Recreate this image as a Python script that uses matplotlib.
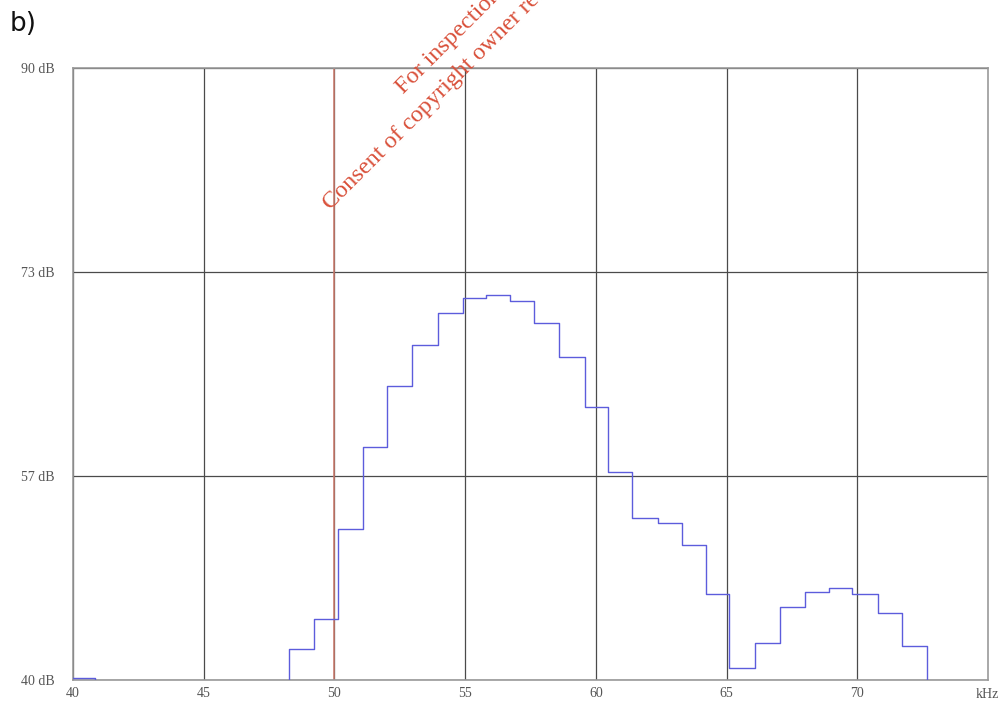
import matplotlib
matplotlib.use("Agg")
import matplotlib.pyplot as plt

# step edges (kHz) and level held from each edge (dB)
freq_edges = [40.0, 40.84, 48.27, 49.23, 50.15, 51.08, 52.0, 52.98, 53.95, 54.9,
              55.8, 56.72, 57.65, 58.6, 59.59, 60.45, 61.4, 62.37, 63.31, 64.2,
              65.1, 66.09, 67.05, 68.0, 68.9, 69.8, 70.78, 71.72, 72.68, 75.0]
levels_db = [40.2, 38.0, 42.5, 45.0, 52.3, 59.0, 64.0, 67.4, 69.96, 71.2,
             71.45, 70.96, 69.2, 66.4, 62.3, 56.97, 53.26, 52.8, 51.0, 47.0,
             41.0, 43.05, 46.0, 47.2, 47.5, 47.0, 45.5, 42.8, 38.0, 38.0]

x_ticks = [40, 45, 50, 55, 60, 65, 70]
y_ticks = [40, 40 + 50 / 3, 40 + 100 / 3, 90]
y_labels = ["40 dB", "57 dB", "73 dB", "90 dB"]
marker_khz = 50

serif = "Liberation Serif"
tick_col = "#555555"

fig = plt.figure(figsize=(10, 7.06), dpi=100)
ax = fig.add_axes([0.073, 0.0368, 0.915, 0.8669])
ax.set_xlim(40, 75)
ax.set_ylim(40, 90)

ax.set_xticks(x_ticks)
ax.set_xticklabels([str(t) for t in x_ticks], fontfamily=serif, fontsize=10, color=tick_col)
ax.set_yticks(y_ticks)
ax.set_yticklabels(y_labels, fontfamily=serif, fontsize=10, color=tick_col)
ax.tick_params(axis="both", length=0)
ax.tick_params(axis="y", pad=13)
ax.tick_params(axis="x", pad=5)

ax.grid(True, color="#4a4a4a", linewidth=0.9)
ax.set_axisbelow(True)
for s in ax.spines.values():
    s.set_color("#999999")
    s.set_linewidth(1.2)

ax.axvline(marker_khz, color="#cc7a6c", linewidth=1.4, alpha=0.8, zorder=2)
ax.step(freq_edges, levels_db, where="post", color="#5c5cdc", linewidth=1.0, zorder=3)

ax.text(0.9995, -0.013, "kHz", transform=ax.transAxes, ha="center", va="top",
        fontfamily=serif, fontsize=10, color=tick_col)

fig.text(0.01, 0.966, "b)", fontsize=19, ha="left", va="center", color="#111111")

fig.text(0.330, 1 - 210 / 706, "Consent of copyright owner required for any other use.",
         rotation=45, rotation_mode="anchor", ha="left", va="baseline",
         fontfamily=serif, fontsize=17.5, color="#d9503a")
fig.text(0.403, 1 - 94 / 706, "For inspection purposes only.",
         rotation=45, rotation_mode="anchor", ha="left", va="baseline",
         fontfamily=serif, fontsize=17.5, color="#d9503a")

fig.savefig("out.png", dpi=100)
